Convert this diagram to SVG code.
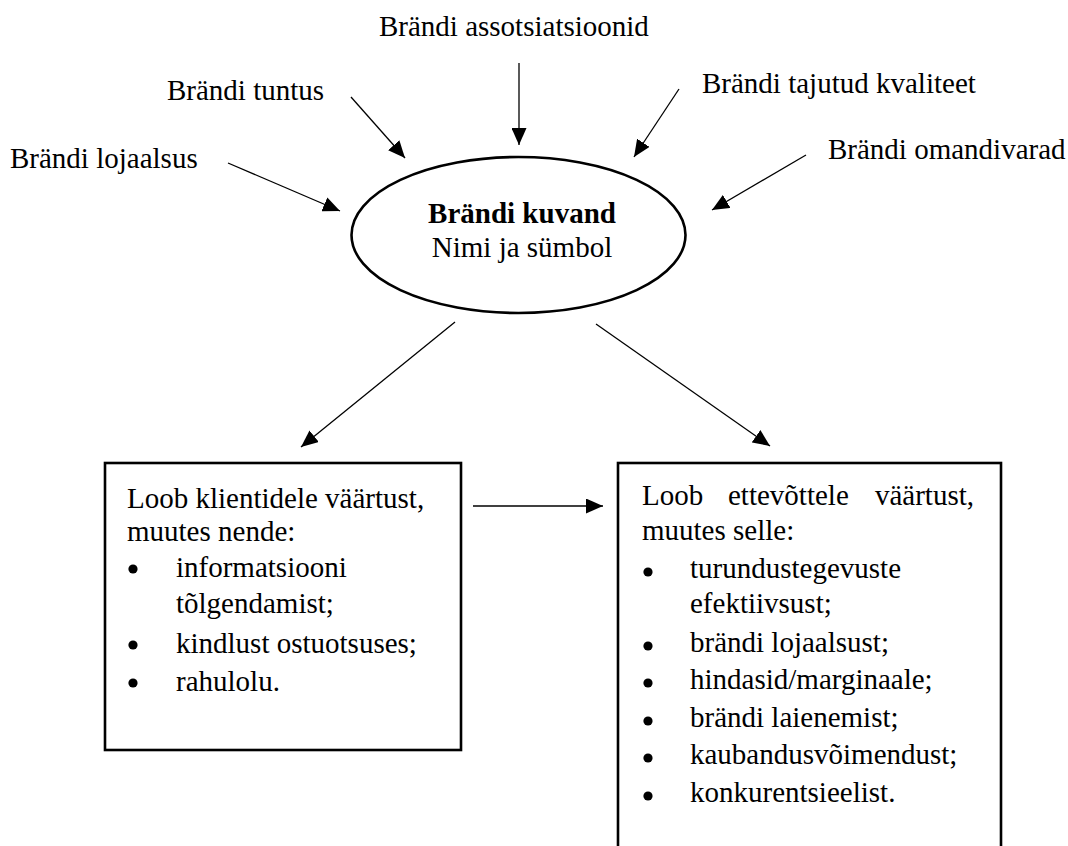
<svg xmlns="http://www.w3.org/2000/svg" width="1068" height="846" viewBox="0 0 1068 846">
<style>
text{font-family:"Liberation Serif","Times New Roman",serif;font-size:29px;fill:#000}
.b{font-weight:bold}
.c{stroke:#000;stroke-width:1.3;fill:none;marker-end:url(#ah)}
.box{fill:#fff;stroke:#000;stroke-width:2.6}
.bul{fill:#000}
</style>
<defs>
<marker id="ah" markerUnits="userSpaceOnUse" markerWidth="18" markerHeight="15" refX="17" refY="7.5" orient="auto">
<path d="M0,0 L17,7.5 L0,15 z" fill="#000"/>
</marker>
</defs>
<rect width="1068" height="846" fill="#fff"/>
<g id="labels">
<text x="379" y="36">Brändi assotsiatsioonid</text>
<text x="167" y="100">Brändi tuntus</text>
<text x="702" y="93">Brändi tajutud kvaliteet</text>
<text x="10" y="168">Brändi lojaalsus</text>
<text x="828" y="159">Brändi omandivarad</text>
</g>
<g id="connectors">
<line class="c" x1="519" y1="63" x2="519" y2="145"/>
<line class="c" x1="351" y1="97" x2="405" y2="158"/>
<line class="c" x1="679" y1="89" x2="634" y2="157"/>
<line class="c" x1="228" y1="163" x2="340" y2="211"/>
<line class="c" x1="806" y1="155" x2="712" y2="210"/>
<line class="c" x1="455" y1="322" x2="301" y2="447"/>
<line class="c" x1="596" y1="324" x2="770" y2="446"/>
<line class="c" x1="473" y1="506" x2="603" y2="506"/>
</g>
<g id="brand-image">
<ellipse cx="518.5" cy="235" rx="167" ry="78" fill="#fff" stroke="#000" stroke-width="2.6"/>
<text class="b" x="522" y="223" text-anchor="middle">Brändi kuvand</text>
<text x="522" y="257" text-anchor="middle">Nimi ja sümbol</text>
</g>
<g id="customer-value">
<rect class="box" x="105" y="463" width="356" height="287"/>
<text x="127" y="508">Loob klientidele väärtust,</text>
<text x="127" y="541">muutes nende:</text>
<circle class="bul" cx="133" cy="569" r="4.6"/>
<text x="176" y="577">informatsiooni</text>
<text x="176" y="613">tõlgendamist;</text>
<circle class="bul" cx="133" cy="645" r="4.6"/>
<text x="176" y="653">kindlust ostuotsuses;</text>
<circle class="bul" cx="133" cy="683" r="4.6"/>
<text x="176" y="691">rahulolu.</text>
</g>
<g id="company-value">
<rect class="box" x="618" y="463" width="383" height="420"/>
<text x="642" y="505">Loob</text>
<text x="728" y="505">ettevõttele</text>
<text x="974" y="505" text-anchor="end">väärtust,</text>
<text x="642" y="540">muutes selle:</text>
<circle class="bul" cx="648" cy="572" r="4.6"/>
<text x="690" y="578">turundustegevuste</text>
<text x="690" y="613">efektiivsust;</text>
<circle class="bul" cx="648" cy="646" r="4.6"/>
<text x="690" y="652">brändi lojaalsust;</text>
<circle class="bul" cx="648" cy="683" r="4.6"/>
<text x="690" y="689">hindasid/marginaale;</text>
<circle class="bul" cx="648" cy="721" r="4.6"/>
<text x="690" y="727">brändi laienemist;</text>
<circle class="bul" cx="648" cy="758" r="4.6"/>
<text x="690" y="764">kaubandusvõimendust;</text>
<circle class="bul" cx="648" cy="796" r="4.6"/>
<text x="690" y="802">konkurentsieelist.</text>
</g>
</svg>
